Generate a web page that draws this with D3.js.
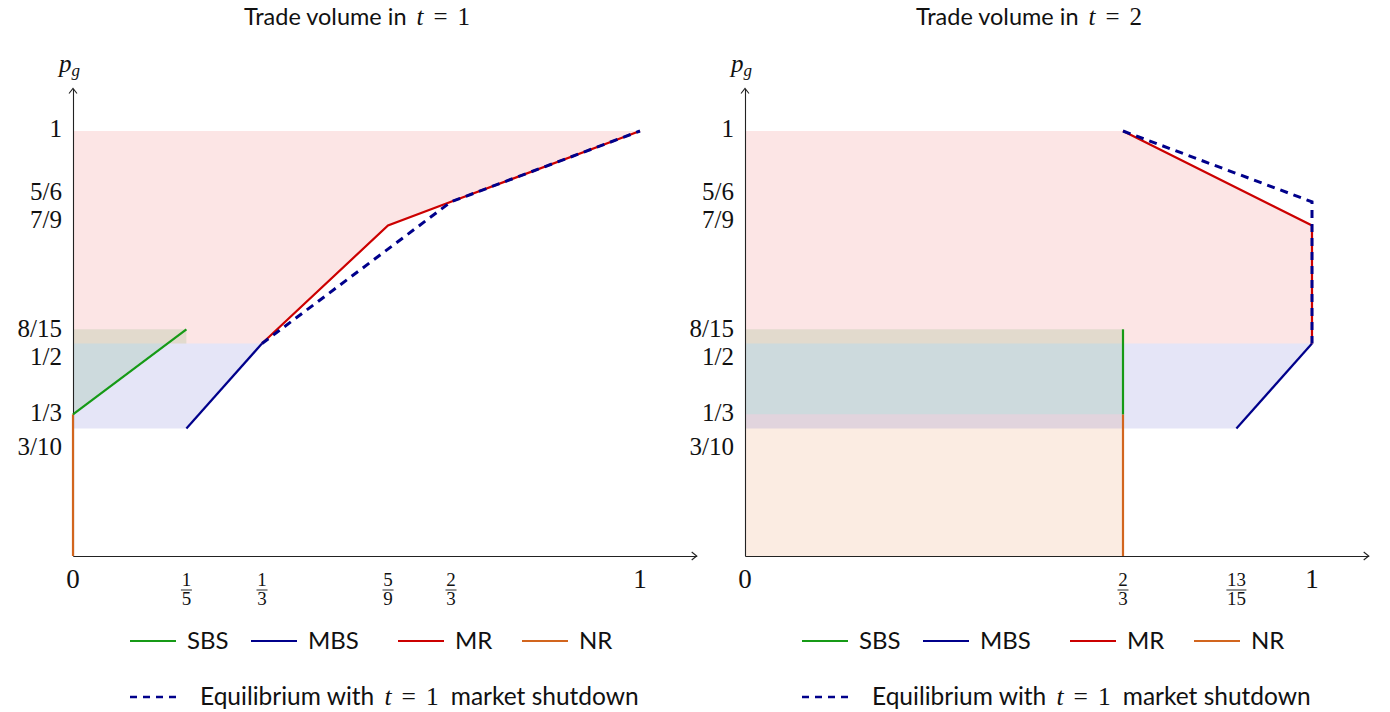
<!DOCTYPE html>
<html>
<head>
<meta charset="utf-8">
<script src="https://cdn.jsdelivr.net/npm/d3@7/dist/d3.min.js"></script>
<style>
  html, body { margin: 0; padding: 0; background: #fff; }
  svg { display: block; }
  .sans { font-family: "Lato", "Open Sans", sans-serif; }
  .serif { font-family: "Liberation Serif", "DejaVu Serif", serif; }
</style>
</head>
<body>
<svg id="chart" width="1390" height="712"></svg>
<script>
// ---- tick values and labels ----
const yTicks = [1, 5/6, 7/9, 8/15, 1/2, 1/3, 3/10];
const yTickLabels = ["1", "5/6", "7/9", "8/15", "1/2", "1/3", "3/10"];

const xTicks1 = [0, 1/5, 1/3, 5/9, 2/3, 1];
const xTickLabels1 = ["0", "1/5", "1/3", "5/9", "2/3", "1"];
const xTicks2 = [0, 2/3, 13/15, 1];
const xTickLabels2 = ["0", "2/3", "13/15", "1"];

// ---- panel t = 1 : curves [x, p_g] ----
const sbs1 = [[0, 1/3], [1/5, 8/15]];
const mbs1 = [[1/5, 3/10], [1/3, 1/2]];
const mr1  = [[1/3, 1/2], [5/9, 7/9], [2/3, 5/6], [1, 1]];
const nr1  = [[0, 0], [0, 1/3]];
const eq1  = [[1/3, 1/2], [2/3, 5/6], [1, 1]];

// ---- panel t = 1 : shaded regions ----
const mrRegion1  = [[0, 1/2], [1/3, 1/2], [5/9, 7/9], [2/3, 5/6], [1, 1], [0, 1]];
const mbsRegion1 = [[0, 3/10], [1/5, 3/10], [1/3, 1/2], [0, 1/2]];
const sbsRegion1 = [[0, 1/3], [1/6, 1/2], [1/5, 1/2], [1/5, 8/15], [0, 8/15]];

// ---- panel t = 2 : curves ----
const sbs2 = [[2/3, 1/3], [2/3, 8/15]];
const mbs2 = [[13/15, 3/10], [1, 1/2]];
const mr2  = [[2/3, 1], [1, 7/9], [1, 1/2]];
const nr2  = [[2/3, 0], [2/3, 1/3]];
const eq2  = [[2/3, 1], [1, 5/6], [1, 1/2]];

// ---- panel t = 2 : shaded regions ----
const nrRegion2  = [[0, 0], [2/3, 0], [2/3, 1/3], [0, 1/3]];
const mbsRegion2 = [[0, 3/10], [13/15, 3/10], [1, 1/2], [0, 1/2]];
const sbsRegion2 = [[0, 1/3], [2/3, 1/3], [2/3, 8/15], [0, 8/15]];
const mrRegion2  = [[0, 1/2], [1, 1/2], [1, 7/9], [2/3, 1], [0, 1]];

const legendNames = ["SBS", "MBS", "MR", "NR"];

// ---- styling ----
const colors = { SBS: "#169a16", MBS: "#00008b", MR: "#cc0000", NR: "#d2651e" };
const fills  = { SBS: "#008000", MBS: "#0000b4", MR: "#e60000", NR: "#e06010" };
const fillOpacity = { SBS: 0.1, MBS: 0.1, MR: 0.1, NR: 0.12 };

// vertical nudges for crowded y labels (px)
const yLabelNudge = { "1": -2, "5/6": -10, "7/9": -5, "8/15": 0, "1/2": 13, "1/3": -1, "3/10": 18 };

const svg = d3.select("#chart");

// inline "t = n" in math style with spaced relation sign
function mathTEq(sel, n, size) {
  sel.append("tspan").attr("class", "serif").attr("font-style", "italic").attr("font-size", size).attr("dx", 4).text("t");
  sel.append("tspan").attr("class", "serif").attr("font-size", size).attr("dx", 10).text("=");
  sel.append("tspan").attr("class", "serif").attr("font-size", size).attr("dx", 10).text(n);
}

function drawPanel(opts) {
  const { x0, title, xTicks, xLabels, curves, regions } = opts;
  const unit = 567;
  const x = d3.scaleLinear().domain([0, 1.1]).range([x0, x0 + unit * 1.1]);
  const y = d3.scaleLinear().domain([0, 1.1]).range([556, 556 - 425 * 1.1]);
  const g = svg.append("g");

  // title
  const t = g.append("text").attr("x", x0 + 284).attr("y", 25)
    .attr("text-anchor", "middle").attr("font-size", 23.5).attr("class", "sans").attr("fill", "#111");
  t.append("tspan").text(title[0]);
  mathTEq(t, title[1], 25);

  // shaded regions
  const area = d3.line().x(d => x(d[0])).y(d => y(d[1]));
  regions.forEach(r => {
    g.append("path").attr("d", area(r.pts) + "Z")
      .attr("fill", fills[r.key]).attr("fill-opacity", fillOpacity[r.key]).attr("stroke", "none");
  });

  // axes (no tick marks; labels drawn below)
  const xAxis = d3.axisBottom(x).tickValues(xTicks).tickSize(0).tickFormat("").tickSizeOuter(0);
  const yAxis = d3.axisLeft(y).tickValues(yTicks).tickSize(0).tickFormat("").tickSizeOuter(0);
  g.append("g").attr("transform", `translate(0,${y(0)})`).call(xAxis)
    .call(s => s.select(".domain").attr("stroke", "#222").attr("stroke-width", 1.1));
  g.append("g").attr("transform", `translate(${x(0)},0)`).call(yAxis)
    .call(s => s.select(".domain").attr("stroke", "#222").attr("stroke-width", 1.1));

  // arrow heads
  const xe = x(1.1), ye = y(1.1);
  g.append("path").attr("d", `M${xe - 5},${y(0) - 4} L${xe},${y(0)} L${xe - 5},${y(0) + 4}`)
    .attr("fill", "none").attr("stroke", "#222").attr("stroke-width", 1.1);
  g.append("path").attr("d", `M${x(0) - 4},${ye + 5} L${x(0)},${ye} L${x(0) + 4},${ye + 5}`)
    .attr("fill", "none").attr("stroke", "#222").attr("stroke-width", 1.1);

  // axis name p_g
  const pg = g.append("text").attr("x", x(0) - 14).attr("y", 72).attr("class", "serif")
    .attr("font-size", 25).attr("font-style", "italic").attr("fill", "#111");
  pg.append("tspan").text("p");
  pg.append("tspan").attr("font-size", 17).attr("dy", 4).text("g");

  // y tick labels
  yTicks.forEach((v, i) => {
    const lab = yTickLabels[i];
    g.append("text").attr("x", x(0) - 11).attr("y", y(v) + yLabelNudge[lab] + 8)
      .attr("text-anchor", "end").attr("class", "serif").attr("font-size", 25)
      .attr("fill", "#111").text(lab);
  });

  // x tick labels (stacked fractions)
  xTicks.forEach((v, i) => {
    const lab = xLabels[i];
    const cx = x(v);
    if (lab.includes("/")) {
      const [num, den] = lab.split("/");
      g.append("text").attr("x", cx).attr("y", 586).attr("text-anchor", "middle")
        .attr("class", "serif").attr("font-size", 19).attr("fill", "#111").text(num);
      g.append("text").attr("x", cx).attr("y", 605).attr("text-anchor", "middle")
        .attr("class", "serif").attr("font-size", 19).attr("fill", "#111").text(den);
      const w = num.length > 1 ? 20 : 11;
      g.append("line").attr("x1", cx - w / 2).attr("x2", cx + w / 2)
        .attr("y1", 590).attr("y2", 590).attr("stroke", "#111").attr("stroke-width", 0.9);
    } else {
      g.append("text").attr("x", cx).attr("y", 588).attr("text-anchor", "middle")
        .attr("class", "serif").attr("font-size", 27).attr("fill", "#111").text(lab);
    }
  });

  // curves
  const line = d3.line().x(d => x(d[0])).y(d => y(d[1]));
  ["NR", "SBS", "MBS", "MR"].forEach(k => {
    g.append("path").attr("d", line(curves[k])).attr("fill", "none")
      .attr("stroke", colors[k]).attr("stroke-width", 2.2).attr("stroke-linejoin", "miter");
  });
  g.append("path").attr("d", line(curves.EQ)).attr("fill", "none")
    .attr("stroke", colors.MBS).attr("stroke-width", 3).attr("stroke-dasharray", "8,6");

  // legend
  const lx = x0 + 57;
  const offsets = [0, 121, 268, 392];
  legendNames.forEach((k, i) => {
    const sx = lx + offsets[i];
    g.append("line").attr("x1", sx).attr("x2", sx + 46).attr("y1", 641).attr("y2", 641)
      .attr("stroke", colors[k]).attr("stroke-width", 2.2);
    g.append("text").attr("x", sx + 57).attr("y", 649).attr("class", "sans")
      .attr("font-size", 24).attr("fill", "#111").text(k);
  });
  g.append("line").attr("x1", lx).attr("x2", lx + 46).attr("y1", 697).attr("y2", 697)
    .attr("stroke", colors.MBS).attr("stroke-width", 2.5).attr("stroke-dasharray", "7,6");
  const lt = g.append("text").attr("x", lx + 70).attr("y", 705).attr("class", "sans")
    .attr("font-size", 24.5).attr("fill", "#111");
  lt.append("tspan").text("Equilibrium with ");
  mathTEq(lt, "1", 25.5);
  lt.append("tspan").attr("dx", 12).text("market shutdown");
}

drawPanel({
  x0: 73, title: ["Trade volume in ", "1"], xTicks: xTicks1, xLabels: xTickLabels1,
  curves: { SBS: sbs1, MBS: mbs1, MR: mr1, NR: nr1, EQ: eq1 },
  regions: [
    { key: "MR", pts: mrRegion1 },
    { key: "MBS", pts: mbsRegion1 },
    { key: "SBS", pts: sbsRegion1 }
  ]
});

drawPanel({
  x0: 745, title: ["Trade volume in ", "2"], xTicks: xTicks2, xLabels: xTickLabels2,
  curves: { SBS: sbs2, MBS: mbs2, MR: mr2, NR: nr2, EQ: eq2 },
  regions: [
    { key: "MR", pts: mrRegion2 },
    { key: "NR", pts: nrRegion2 },
    { key: "MBS", pts: mbsRegion2 },
    { key: "SBS", pts: sbsRegion2 }
  ]
});
</script>
</body>
</html>
